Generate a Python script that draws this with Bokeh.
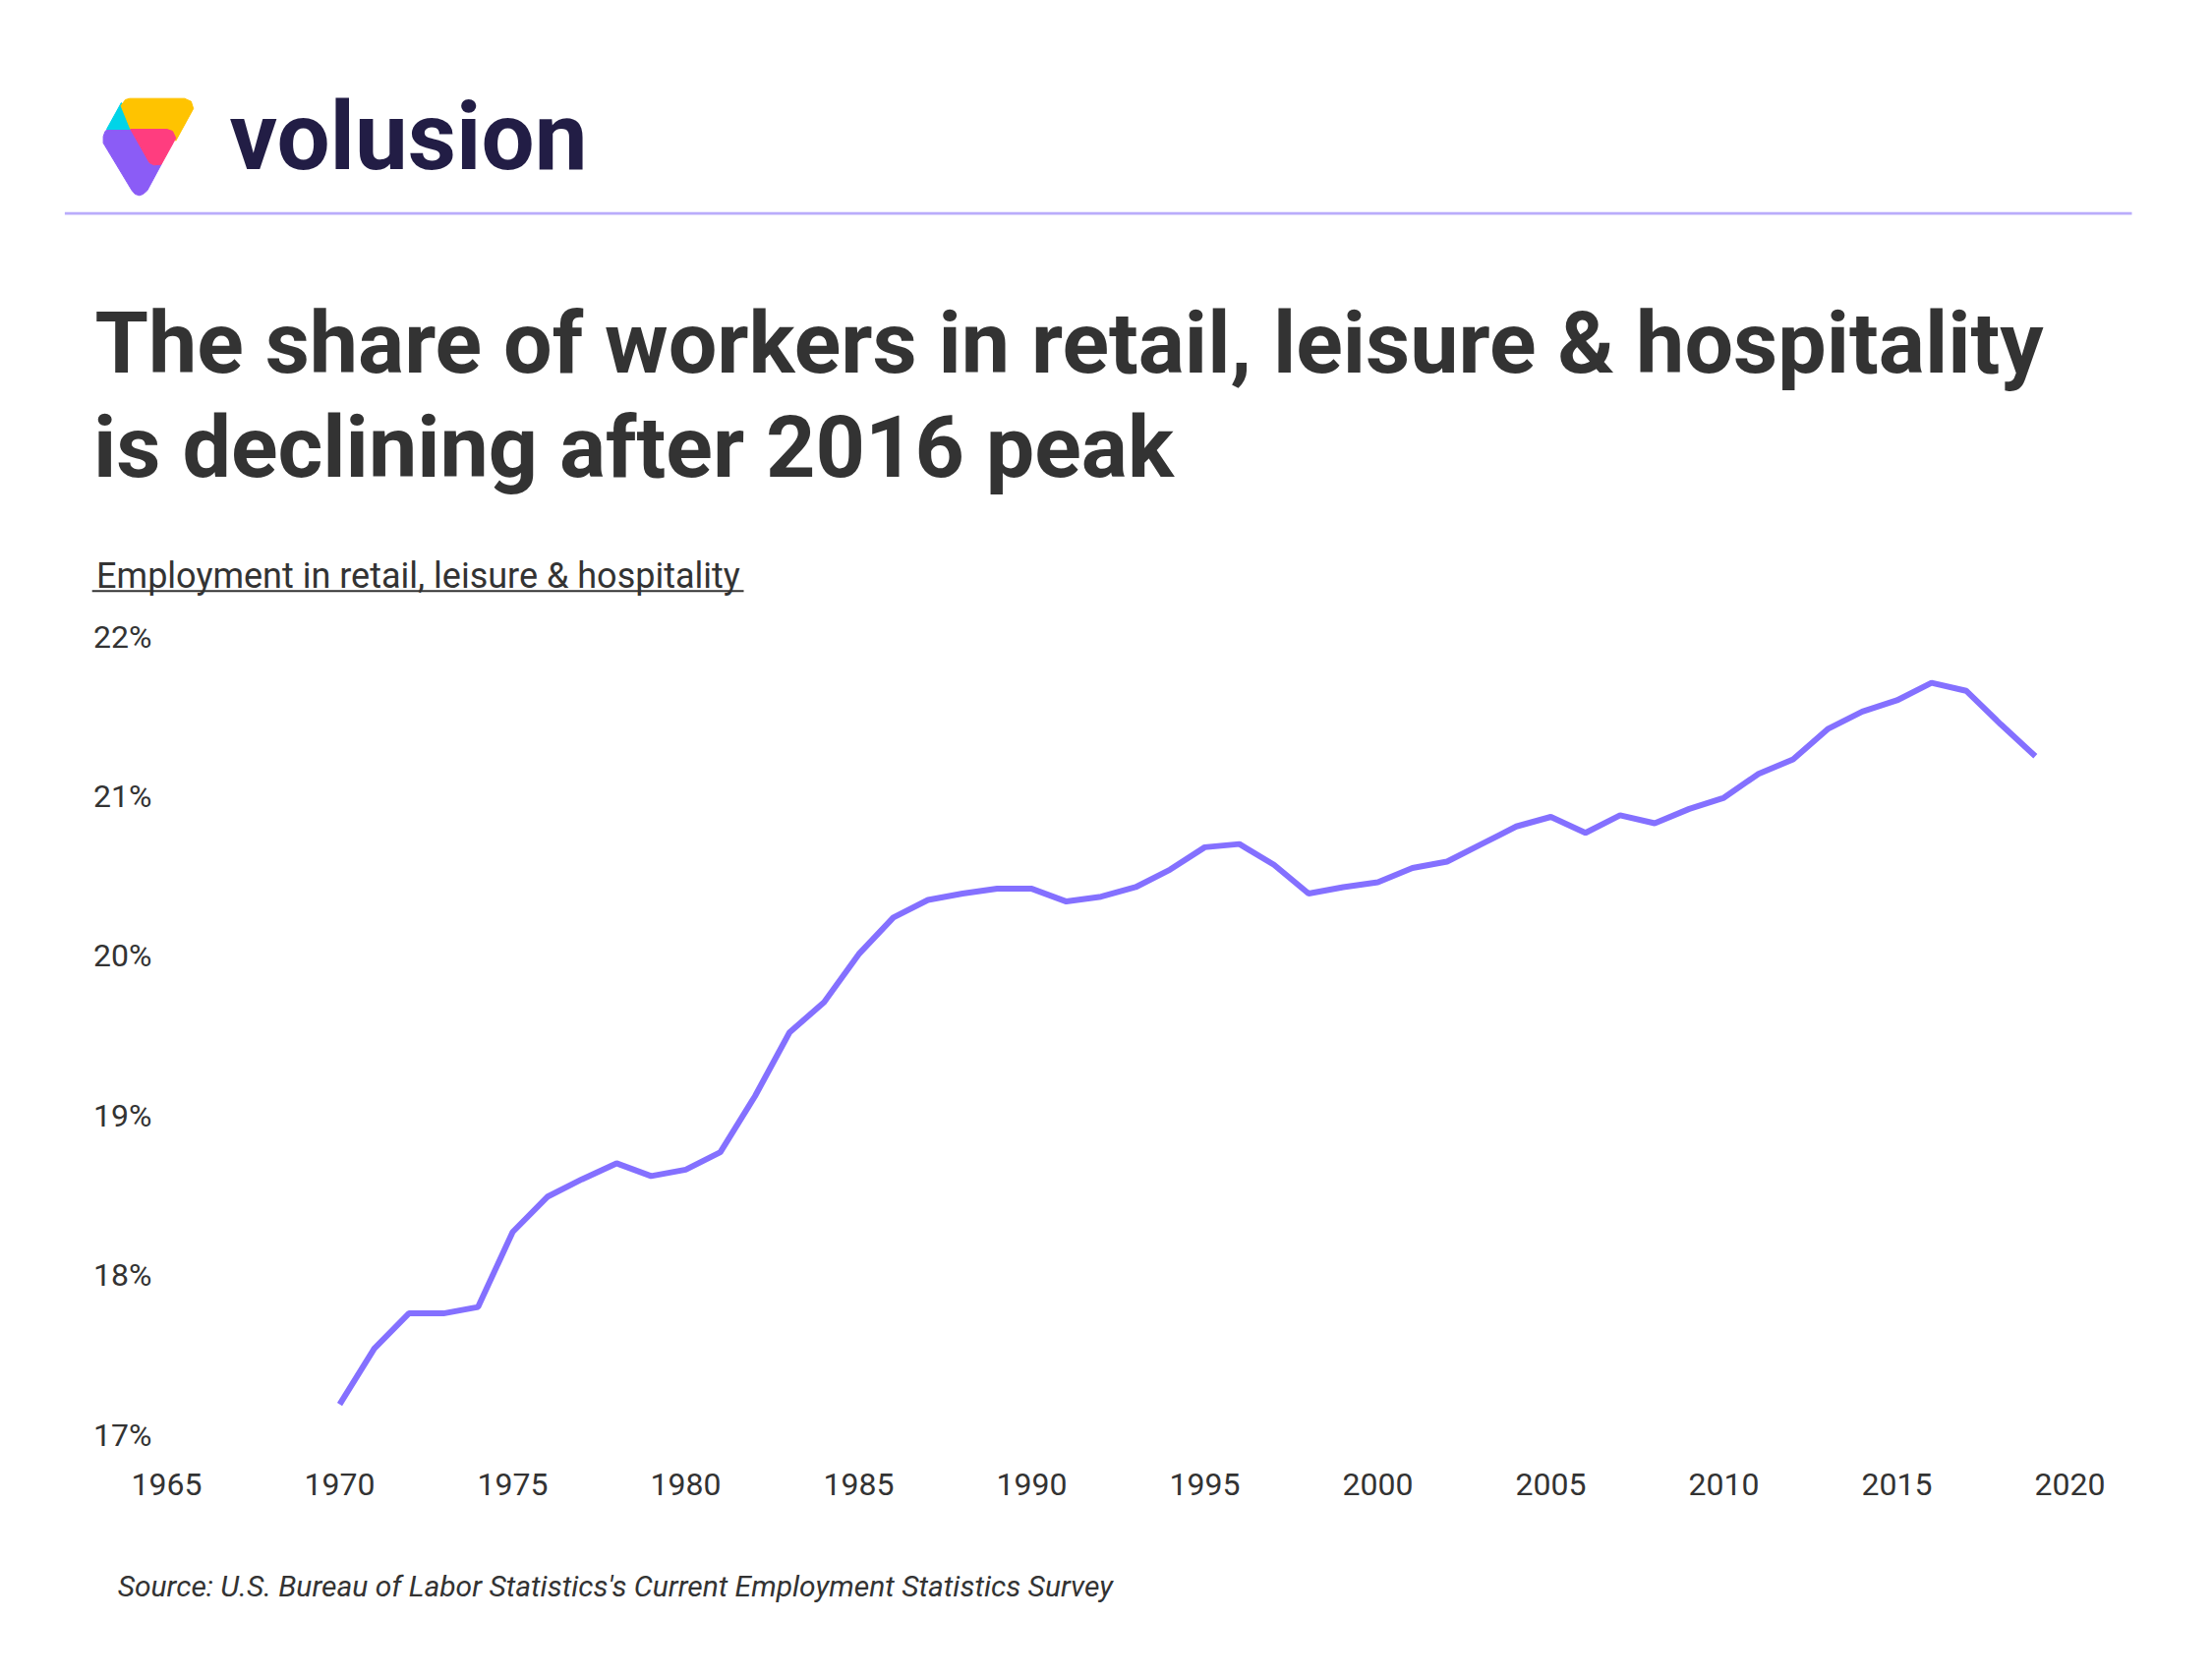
from bokeh.plotting import figure
from bokeh.models import Range1d, FixedTicker, LinearAxis
from bokeh.embed import file_html
from bokeh.resources import INLINE

# ---------------- data ----------------
years = list(range(1970, 2020))
share = [17.19, 17.54, 17.76, 17.76, 17.80, 18.27, 18.49, 18.60, 18.70, 18.62,
         18.66, 18.77, 19.12, 19.52, 19.71, 20.01, 20.24, 20.35, 20.39, 20.42,
         20.42, 20.34, 20.37, 20.43, 20.54, 20.68, 20.70, 20.57, 20.39, 20.43,
         20.46, 20.55, 20.59, 20.70, 20.81, 20.87, 20.77, 20.88, 20.83, 20.92,
         20.99, 21.14, 21.23, 21.42, 21.53, 21.60, 21.71, 21.66, 21.45, 21.25]
x_ticks = [1965, 1970, 1975, 1980, 1985, 1990, 1995, 2000, 2005, 2010, 2015, 2020]
y_ticks = [17, 18, 19, 20, 21, 22]
y_tick_labels = ["17%", "18%", "19%", "20%", "21%", "22%"]

title_lines = ["The share of workers in retail, leisure & hospitality",
               "is declining after 2016 peak"]
subtitle = "Employment in retail, leisure & hospitality"
source = "Source:  U.S. Bureau of Labor Statistics's Current Employment Statistics Survey"
brand = "volusion"

# ---------------- layout (canvas pixels, y from the top) ----------------
W, H = 2234, 1691
FL, FR, FT, FB = 169, 2105, 647, 1459   # frame edges
TXT = "#333333"
LINE_COLOR = "#8470ff"

p = figure(width=W, height=H, x_range=Range1d(1965, 2020), y_range=Range1d(17, 22),
           title=None, output_backend="svg", toolbar_location=None,
           min_border_left=FL, min_border_right=W - FR,
           min_border_top=FT, min_border_bottom=H - FB,
           outline_line_color=None,
           background_fill_color="white", border_fill_color="white")
p.extra_x_ranges = {"px": Range1d(FL, FR)}
p.extra_y_ranges = {"px": Range1d(H - FB, H - FT)}
p.grid.visible = False

p.line(years, share, line_color=LINE_COLOR, line_width=6)


def style_axis(ax, size, style="normal", font="Roboto", color=TXT, tick_out=0):
    ax.axis_line_color = None
    ax.major_tick_line_color = None
    ax.minor_tick_line_color = None
    ax.major_tick_out = tick_out
    ax.major_tick_in = 0
    ax.minor_tick_out = 0
    ax.minor_tick_in = 0
    ax.major_label_text_font = font
    ax.major_label_text_font_size = size
    ax.major_label_text_font_style = style
    ax.major_label_text_color = color


p.xaxis.ticker = FixedTicker(ticks=x_ticks)
p.yaxis.ticker = FixedTicker(ticks=y_ticks)
p.yaxis.major_label_overrides = dict(zip(y_ticks, y_tick_labels))
style_axis(p.xaxis[0], "32px", tick_out=6)
style_axis(p.yaxis[0], "32px", tick_out=6)
p.xaxis.major_label_standoff = 33
p.yaxis.major_label_standoff = 9

PX = dict(x_range_name="px", y_range_name="px")


def up(ys):
    return [H - y for y in ys]


# logo (annotation level, so it is not clipped to the plot frame)
logo = [
    ("#8b5cf6", [(104.6, 138.3), (106.5, 133), (109.1, 131), (132.3, 131), (151.5, 165),
                 (156, 167.3), (163.6, 166.7), (149.3, 193.3), (145, 197), (141.25, 198.3),
                 (137, 197), (133.7, 193.3), (104.6, 145)]),
    ("#00d4e8", [(122.9, 104), (132.3, 131), (108, 131)]),
    ("#ffc300", [(122.5, 107), (127, 101), (131.4, 99.7), (187.2, 99.7), (193.9, 102.7),
                 (196.2, 110), (178.3, 142.7), (169.4, 131), (132.3, 131)]),
    ("#ff3d7f", [(132.3, 131), (169.4, 131), (175, 133), (178.3, 140), (163.6, 166.7),
                 (156, 167.3), (151.5, 165)]),
]
for col, pts in logo:
    p.patch([a for a, _ in pts], up([b for _, b in pts]), fill_color=col, line_color=col,
            line_width=1, level="annotation", **PX)

p.line([65.4, 2168], up([216.7, 216.7]), line_color="#b9acfb", line_width=2.7,
       level="annotation", **PX)
p.line([93.2, 756], up([600.7, 600.7]), line_color=TXT, line_width=2,
       level="annotation", **PX)


# header / footer texts: single centred labels of extra axes stacked around the frame
def text_axis(side, center_x, text, standoff, size, style="normal", font="Roboto",
              color=TXT):
    ax = LinearAxis(x_range_name="px", ticker=FixedTicker(ticks=[center_x]),
                    major_label_overrides={center_x: text},
                    major_label_standoff=standoff)
    style_axis(ax, size, style, font, color)
    p.add_layout(ax, side)


# stacked outward from the frame top (page y 647)
text_axis("above", 425, subtitle, 41, "36px")                    # bottom at 606
text_axis("above", 644, title_lines[1], 56, "88px", "bold")      # bottom at 508
text_axis("above", 1087, title_lines[0], 0, "88px", "bold")      # bottom at 405
text_axis("above", 415, brand, 99, "96px", "bold", "Roboto", "#221d45")
# below the year labels
text_axis("below", 629, source, 72, "30px", "italic")

open("out.html", "w").write(file_html(p, INLINE))
